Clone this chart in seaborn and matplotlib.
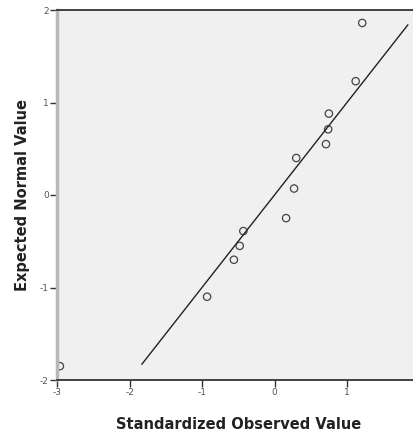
import matplotlib
matplotlib.use('Agg')
import matplotlib.pyplot as plt
import pandas as pd
import seaborn as sns

# Q-Q plot data
observed = [1.21, 1.12, 0.75, 0.74, 0.71, 0.30, 0.27, 0.16, -0.43, -0.48, -0.56, -0.93, -2.96]
expected = [1.86, 1.23, 0.88, 0.71, 0.55, 0.40, 0.07, -0.25, -0.39, -0.55, -0.70, -1.10, -1.85]
line_x = [-1.83, 1.84]
line_y = [-1.83, 1.84]
ticks = [-3, -2, -1, 0, 1, 2]
yticks = [-2, -1, 0, 1, 2]

df = pd.DataFrame({'observed': observed, 'expected': expected})
ref = pd.DataFrame({'x': line_x, 'y': line_y})

sns.set_style('white')
plt.rcParams['font.family'] = ['DejaVu Sans']
plt.rcParams['axes.unicode_minus'] = False

fig = plt.figure(figsize=(4.14, 4.38), dpi=100)
ax = fig.add_axes([57 / 414, 58 / 438, 362.5 / 414, 370 / 438])
ax.set_facecolor('#f0f0f0')

sns.lineplot(x='x', y='y', data=ref, color='#222222', linewidth=1.0, ax=ax)
sns.scatterplot(x='observed', y='expected', data=df, marker='o', s=28,
                facecolors='none', edgecolor='#444444', linewidth=0.9, ax=ax)

ax.set_xlim(-3, 2)
ax.set_ylim(-2, 2)
ax.set_xticks(ticks)
ax.set_yticks(yticks)
ax.tick_params(axis='both', direction='out', length=5, width=1, color='#333333',
               labelsize=6.5, labelcolor='#555555', pad=1)
ax.tick_params(axis='x', bottom=True)
ax.tick_params(axis='y', left=True)

ax.spines['left'].set_color('#b8b8b8')
ax.spines['left'].set_linewidth(2.5)
ax.spines['top'].set_color('#333333')
ax.spines['top'].set_linewidth(1.3)
ax.spines['bottom'].set_color('#333333')
ax.spines['bottom'].set_linewidth(1.3)
ax.spines['right'].set_visible(False)

ax.set_xlabel('Standardized Observed Value', fontsize=10.5, fontweight='bold', color='#222222', labelpad=14)
ax.set_ylabel('Expected Normal Value', fontsize=10.5, fontweight='bold', color='#222222', labelpad=7)

fig.savefig('out.png', dpi=100)
